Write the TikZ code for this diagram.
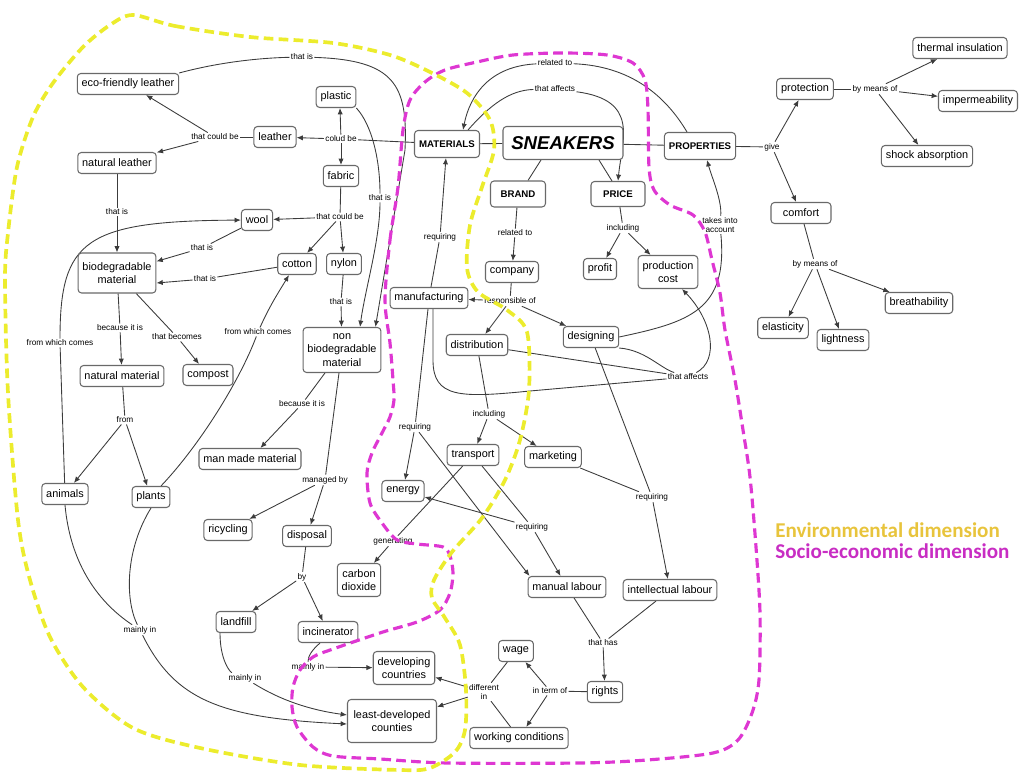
\documentclass[tikz,border=0pt]{standalone}
\usepackage{fontspec}
\setmainfont{Liberation Sans}
\newfontfamily\legendfont{Carlito}
\usetikzlibrary{arrows.meta,calc,backgrounds}

\definecolor{boxgray}{RGB}{105,105,105}
\definecolor{linegray}{RGB}{60,60,60}
\definecolor{envyellow}{RGB}{236,236,45}
\definecolor{socmagenta}{RGB}{222,55,210}
\definecolor{envtext}{RGB}{232,196,60}
\definecolor{soctext}{RGB}{200,45,195}

\newcommand{\conceptsize}{\fontsize{6.2}{7.6}\selectfont}
\newcommand{\linksize}{\fontsize{4.7}{5.4}\selectfont}

\begin{document}
\begin{tikzpicture}[x=0.02cm, y=-0.02cm,
    concept/.style={draw=boxgray, fill=white, rounded corners=2pt, line width=0.6pt, font=\conceptsize, align=center, inner xsep=2.5pt, inner ysep=2pt, minimum height=0.42cm},
    main/.style={concept, font=\bfseries\fontsize{5.5}{6.6}\selectfont, minimum height=0.54cm},
    link/.style={font=\linksize, fill=white, inner sep=0.6pt, align=center},
    con/.style={draw=linegray, line width=0.5pt},
    arr/.style={con, -{Latex[length=3.6pt,width=3pt]}},
    dim/.style={line width=2.1pt, dash pattern=on 5.5pt off 3pt}]

    \useasboundingbox (0,0) rectangle (1019,776);

    % centre
    \node[main, font=\bfseries\itshape\fontsize{10.6}{12}\selectfont, minimum width=2.4cm, minimum height=0.66cm] (sneakers) at (563,143) {SNEAKERS};
    \node[main, minimum width=1.3cm] (materials) at (447,144) {MATERIALS};
    \node[main, minimum width=1.42cm] (properties) at (700,146) {PROPERTIES};
    \node[main, minimum width=1.1cm, minimum height=0.52cm] (brand) at (518,194) {BRAND};
    \node[main, minimum width=1.08cm, minimum height=0.5cm] (price) at (618,194) {PRICE};

    % materials
    \node[concept] (ecoleather) at (128,84) {eco-friendly leather};
    \node[concept] (plastic) at (336,97) {plastic};
    \node[concept] (leather) at (275,137) {leather};
    \node[concept] (natleather) at (117,163) {natural leather};
    \node[concept] (fabric) at (341,176) {fabric};
    \node[concept] (wool) at (257,220) {wool};
    \node[concept] (cotton) at (297,264) {cotton};
    \node[concept] (nylon) at (344,264) {nylon};
    \node[concept, minimum height=0.8cm] (bio) at (117,273) {biodegradable\\material};
    \node[concept, minimum height=0.9cm] (nonbio) at (342,350) {non\\biodegradable\\material};
    \node[concept] (natmat) at (122,376) {natural material};
    \node[concept] (compost) at (208,375) {compost};
    \node[concept] (manmade) at (250,459) {man made material};
    \node[concept] (animals) at (65,494) {animals};
    \node[concept] (plants) at (151,497) {plants};
    \node[concept] (recycling) at (228,530) {ricycling};
    \node[concept] (disposal) at (307,536) {disposal};
    \node[concept, minimum height=0.66cm] (carbon) at (359,580) {carbon\\dioxide};
    \node[concept] (landfill) at (236,622) {landfill};
    \node[concept] (incinerator) at (328,632) {incinerator};
    \node[concept, minimum height=0.66cm] (developing) at (404,668) {developing\\countries};
    \node[concept, minimum width=1.78cm, minimum height=0.86cm] (leastdev) at (392,721) {least-developed\\counties};

    % brand
    \node[concept] (company) at (512,272) {company};
    \node[concept] (manufacturing) at (429,298) {manufacturing};
    \node[concept] (distribution) at (477,345) {distribution};
    \node[concept] (designing) at (591,337) {designing};
    \node[concept] (transport) at (473,455) {transport};
    \node[concept] (marketing) at (553,457) {marketing};
    \node[concept] (energy) at (403,491) {energy};
    \node[concept] (manual) at (567,587) {manual labour};
    \node[concept] (intellectual) at (670,590) {intellectual labour};
    \node[concept] (rights) at (605,692) {rights};
    \node[concept] (wage) at (516,651) {wage};
    \node[concept] (conditions) at (519,738) {working conditions};

    % price
    \node[concept] (profit) at (600,269) {profit};
    \node[concept, minimum height=0.66cm] (prodcost) at (668,272) {production\\cost};

    % properties
    \node[concept] (protection) at (805,89) {protection};
    \node[concept] (thermal) at (960,48) {thermal insulation};
    \node[concept] (impermeability) at (978,101) {impermeability};
    \node[concept] (shock) at (927,156) {shock absorption};
    \node[concept, minimum width=1.2cm] (comfort) at (801,213) {comfort};
    \node[concept] (breathability) at (919,303) {breathability};
    \node[concept] (elasticity) at (783,328) {elasticity};
    \node[concept] (lightness) at (843,340) {lightness};

    % linking phrases
    \node[link] (lIsEco) at (302,57) {that is};
    \node[link] (lCouldL) at (215,137) {that could be};
    \node[link] (lColud) at (341,139) {colud be};
    \node[link] (lIsPlastic) at (380,198) {that is};
    \node[link] (lIsNat) at (117,212) {that is};
    \node[link] (lCouldF) at (340,217) {that could be};
    \node[link] (lIsWool) at (202,248) {that is};
    \node[link] (lIsCotton) at (205,279) {that is};
    \node[link] (lIsNylon) at (341,302) {that is};
    \node[link] (lBecauseBio) at (120,328) {because it is};
    \node[link] (lBecomes) at (177,337) {that becomes};
    \node[link] (lComesA) at (60,343) {from which comes};
    \node[link] (lComesP) at (258,332) {from which comes};
    \node[link] (lFrom) at (125,420) {from};
    \node[link] (lBecauseNon) at (302,404) {because it is};
    \node[link] (lManaged) at (325,480) {managed by};
    \node[link] (lBy) at (302,577) {by};
    \node[link] (lMainlyA) at (140,630) {mainly in};
    \node[link] (lMainlyL) at (245,678) {mainly in};
    \node[link] (lMainlyI) at (308,667) {mainly in};
    \node[link] (lGenerating) at (393,541) {generating};
    \node[link] (lReqManuf) at (415,427) {requiring};
    \node[link] (lReqTrans) at (532,527) {requiring};
    \node[link] (lIncDist) at (489,414) {including};
    \node[link] (lReqDes) at (652,497) {requiring};
    \node[link] (lAffects) at (688,377) {that affects};
    \node[link] (lResp) at (510,301) {responsible of};
    \node[link] (lRelBrand) at (515,233) {related to};
    \node[link] (lIncPrice) at (623,228) {including};
    \node[link] (lAccount) at (720,225) {takes into\\account};
    \node[link] (lReqMat) at (440,237) {requiring};
    \node[link] (lRelTop) at (555,63) {related to};
    \node[link] (lAffTop) at (555,89) {that affects};
    \node[link] (lGive) at (772,147) {give};
    \node[link] (lMeansP) at (875,89) {by means of};
    \node[link] (lMeansC) at (815,264) {by means of};
    \node[link] (lHas) at (603,643) {that has};
    \node[link] (lTerm) at (550,691) {in term of};
    \node[link] (lDiff) at (484,692) {different\\in};

    \begin{pgfonlayer}{background}
    % sneakers
    \draw[con] (materials) -- (sneakers);
    \draw[con] (sneakers) -- (properties);
    \draw[con] ($(sneakers.south)+(-22,0)$) -- ($(brand.north)+(10,0)$);
    \draw[con] ($(sneakers.south)+(36,0)$) -- ($(price.north)+(-6,0)$);

    % materials branch
    \draw[con] (materials) -- (lColud);
    \draw[arr] (lColud) -- (leather);
    \draw[arr] (lColud) -- ($(plastic.south)+(4,0)$);
    \draw[arr] (lColud) -- (fabric);
    \draw[con] (leather) -- (lCouldL);
    \draw[arr] (lCouldL) -- (ecoleather);
    \draw[arr] (lCouldL) -- (natleather);
    \draw[con] (ecoleather.north east) .. controls (220,62) and (260,58) .. (lIsEco);
    \draw[arr] (lIsEco) .. controls (395,60) and (408,85) .. (405,150) -- ($(nonbio.north east)+(-6,0)$);
    \draw[con] (plastic.south east) .. controls (372,125) and (380,160) .. (lIsPlastic);
    \draw[arr] (lIsPlastic) .. controls (380,240) and (365,290) .. ($(nonbio.north)+(18,0)$);
    \draw[con] (fabric) -- (lCouldF);
    \draw[arr] (lCouldF) -- (wool);
    \draw[arr] (lCouldF) -- (cotton);
    \draw[arr] (lCouldF) -- (nylon);
    \draw[con] (natleather) -- (lIsNat);
    \draw[arr] (lIsNat) -- (bio);
    \draw[con] (wool) -- (lIsWool);
    \draw[arr] (lIsWool) -- (bio);
    \draw[con] (cotton) -- (lIsCotton);
    \draw[arr] (lIsCotton) -- ($(bio.east)+(0,10)$);
    \draw[con] (nylon) -- (lIsNylon);
    \draw[arr] (lIsNylon) -- (nonbio);
    \draw[con] (bio) -- (lBecauseBio);
    \draw[arr] (lBecauseBio) -- (natmat);
    \draw[con] (bio) -- (lBecomes);
    \draw[arr] (lBecomes) -- (compost);
    \draw[con] (animals) -- (lComesA);
    \draw[arr] (lComesA) .. controls (60,240) and (85,221) .. (wool);
    \draw[con] (natmat) -- (lFrom);
    \draw[arr] (lFrom) -- (animals);
    \draw[arr] (lFrom) -- (plants);
    \draw[con] ($(plants.north)+(10,0)$) .. controls (200,445) and (240,380) .. (lComesP);
    \draw[arr] (lComesP) .. controls (270,305) and (280,290) .. ($(cotton.south)+(-8,0)$);
    \draw[con] (nonbio) -- (lBecauseNon);
    \draw[arr] (lBecauseNon) -- (manmade);
    \draw[con] (nonbio) -- (lManaged);
    \draw[arr] (lManaged) -- (recycling);
    \draw[arr] (lManaged) -- (disposal);
    \draw[con] (disposal) -- (lBy);
    \draw[arr] (lBy) -- (landfill);
    \draw[arr] (lBy) -- (incinerator);
    \draw[con] (animals.south) .. controls (70,560) and (95,600) .. (lMainlyA);
    \draw[con] (plants.south) .. controls (125,550) and (125,600) .. (lMainlyA);
    \draw[arr] (lMainlyA) .. controls (175,700) and (220,718) .. ($(leastdev.west)+(0,3)$);
    \draw[con] ($(landfill.south)+(-16,0)$) .. controls (220,660) and (230,672) .. (lMainlyL);
    \draw[arr] (lMainlyL) .. controls (280,700) and (310,710) .. ($(leastdev.west)+(0,-6)$);
    \draw[con] ($(incinerator.south)+(-8,0)$) .. controls (312,650) and (308,656) .. (lMainlyI);
    \draw[arr] (lMainlyI) -- (developing);

    % brand branch
    \draw[con] (brand) -- (lRelBrand);
    \draw[arr] (lRelBrand) -- (company);
    \draw[con] (company) -- (lResp);
    \draw[arr] (lResp) -- (manufacturing);
    \draw[arr] (lResp) -- (distribution);
    \draw[arr] (lResp) -- (designing);
    \draw[con] (manufacturing) -- (lReqMat);
    \draw[arr] (lReqMat) -- (materials);
    \draw[con] ($(manufacturing.south)+(-1,0)$) -- (lReqManuf);
    \draw[arr] (lReqManuf) -- (energy);
    \draw[arr] (lReqManuf) -- ($(manual.north west)+(2,0)$);
    \draw[con] ($(manufacturing.south)+(4,0)$) -- (433,360) .. controls (433,398) and (460,398) .. (530,391) -- (lAffects);
    \draw[con] (distribution) -- (lAffects);
    \draw[con] (designing.south east) .. controls (645,350) and (660,368) .. (lAffects);
    \draw[arr] (lAffects) .. controls (720,360) and (712,320) .. ($(prodcost.south)+(14,0)$);
    \draw[con] (designing.east) .. controls (690,322) and (728,310) .. (lAccount);
    \draw[arr] (lAccount) .. controls (722,200) and (712,178) .. ($(properties.south)+(7,0)$);
    \draw[con] (distribution) -- (lIncDist);
    \draw[arr] (lIncDist) -- (transport);
    \draw[arr] (lIncDist) -- (marketing);
    \draw[con] (transport) -- (lGenerating);
    \draw[arr] (lGenerating) -- (carbon);
    \draw[con] (transport) -- (lReqTrans);
    \draw[arr] (lReqTrans) -- (energy);
    \draw[arr] (lReqTrans) -- (manual);
    \draw[con] (marketing) -- (lReqDes);
    \draw[con] (designing) -- (lReqDes);
    \draw[arr] (lReqDes) -- (intellectual);
    \draw[con] (manual) -- (lHas);
    \draw[con] (intellectual) -- (lHas);
    \draw[arr] (lHas) -- (rights);
    \draw[con] (rights) -- (lTerm);
    \draw[arr] (lTerm) -- (wage);
    \draw[arr] (lTerm) -- (conditions);
    \draw[con] (wage) -- (lDiff);
    \draw[con] (conditions) -- (lDiff);
    \draw[arr] (lDiff) -- (developing);
    \draw[arr] (lDiff) -- (leastdev);

    % price and properties
    \draw[con] (price) -- (lIncPrice);
    \draw[arr] (lIncPrice) -- (profit);
    \draw[arr] (lIncPrice) -- (prodcost);
    \draw[con] ($(materials.north east)+(-12,0)$) .. controls (490,105) and (510,90) .. (lAffTop);
    \draw[arr] (lAffTop) .. controls (640,100) and (622,140) .. (price.north);
    \draw[con] ($(properties.north)+(-13,0)$) .. controls (665,95) and (630,66) .. (lRelTop);
    \draw[arr] (lRelTop) .. controls (490,66) and (470,95) .. ($(materials.north)+(16,0)$);
    \draw[con] (properties) -- (lGive);
    \draw[arr] (lGive) -- (protection);
    \draw[arr] (lGive) -- (comfort);
    \draw[con] (protection) -- (lMeansP);
    \draw[arr] (lMeansP) -- (thermal);
    \draw[arr] (lMeansP) -- (impermeability);
    \draw[arr] (lMeansP) -- (shock);
    \draw[con] (comfort) -- (lMeansC);
    \draw[arr] (lMeansC) -- (elasticity);
    \draw[arr] (lMeansC) -- (lightness);
    \draw[arr] (lMeansC) -- (breathability);
    \end{pgfonlayer}

    % dimensions
    \draw[dim, draw=socmagenta, line width=1.8pt] plot[smooth cycle, tension=0.5] coordinates {
        (385,300) (390,240) (398,187) (403,130) (410,100) (425,82) (445,70) (477,62) (513,55) (563,53)
        (607,55) (633,63) (645,80) (648,110) (649,167) (654,190) (670,205) (693,215) (705,232) (712,260)
        (720,293) (725,330) (735,380) (743,430) (750,477) (756,547) (760,613) (759,680) (752,713) (738,740)
        (713,753) (647,760) (580,763) (447,763) (380,759) (333,756) (313,747) (297,727) (292,707) (293,687)
        (300,670) (313,657) (333,649) (383,632) (417,622) (440,610) (450,593) (453,573) (450,556) (443,547)
        (417,544) (397,540) (382,523) (370,503) (367,473) (372,453) (382,433) (390,417) (394,400) (393,380)
        (390,343)};
    \draw[dim, draw=envyellow] plot[smooth cycle, tension=0.5] coordinates {
        (133,15) (175,26) (250,37) (333,43) (390,55) (430,72) (467,93) (490,120) (494,150) (482,187)
        (470,225) (467,268) (478,292) (507,310) (527,332) (529,390) (520,440) (505,480) (482,518) (452,552)
        (434,580) (432,598) (445,618) (460,645) (466,690) (465,730) (455,752) (430,768) (400,770) (300,765)
        (200,748) (133,728) (83,687) (50,637) (30,580) (18,520) (8,393) (5,280) (8,233) (17,167)
        (33,117) (53,83) (83,47) (110,25)};

    % legend
    \node[anchor=west, inner sep=0pt, text=envtext, font=\legendfont\bfseries\fontsize{12}{14}\selectfont] (envlegend) at (775,530) {Environmental dimension};
    \node[anchor=west, inner sep=0pt, text=soctext, font=\legendfont\bfseries\fontsize{12}{14}\selectfont] (soclegend) at (775,551) {Socio-economic dimension};
\end{tikzpicture}
\end{document}
